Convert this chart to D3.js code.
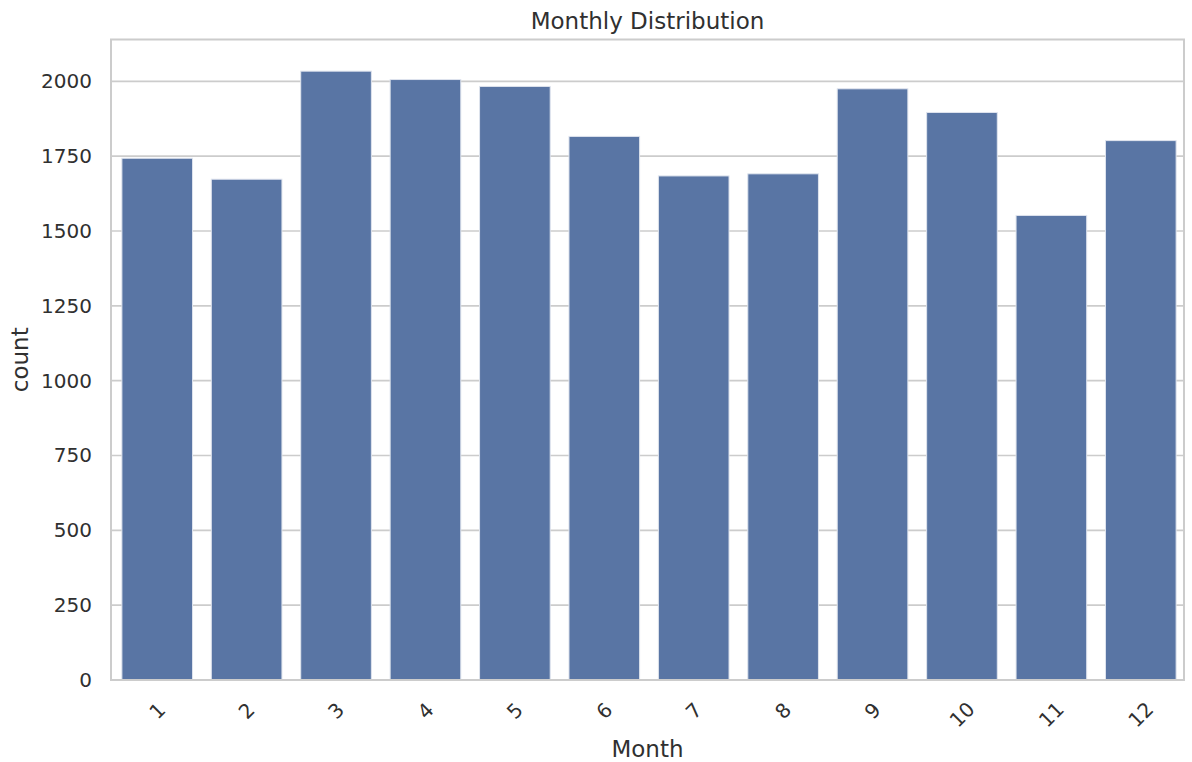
<!DOCTYPE html>
<html>
<head>
<meta charset="utf-8">
<script src="https://cdn.jsdelivr.net/npm/d3@7"></script>
<style>
html,body{margin:0;padding:0;background:#fff;}
svg{display:block;font-family:"DejaVu Sans",sans-serif;}
</style>
</head>
<body>
<svg id="chart" width="1192" height="762"></svg>
<script>
const months = ["1","2","3","4","5","6","7","8","9","10","11","12"];
const counts = [1743, 1673, 2034, 2006, 1983, 1816, 1684, 1691, 1975, 1896, 1552, 1802];
const yTicks = [0, 250, 500, 750, 1000, 1250, 1500, 1750, 2000];

const svg = d3.select("#chart");
const m = {left: 111, right: 1184, top: 39.5, bottom: 680};
const textColor = "#303030";
const gridColor = "#cccccc";

const x = d3.scaleBand().domain(months).range([m.left + 1.5, m.right + 1.5]).paddingInner(0.21).paddingOuter(0.105);
const y = d3.scaleLinear().domain([0, d3.max(counts) * 1.052]).range([m.bottom, m.top]);

// gridlines
svg.append("g").selectAll("line").data(yTicks).join("line")
  .attr("x1", m.left).attr("x2", m.right)
  .attr("y1", d => y(d)).attr("y2", d => y(d))
  .attr("stroke", gridColor).attr("stroke-width", 1.7);

// bars
svg.append("g").selectAll("rect").data(months).join("rect")
  .attr("x", d => x(d))
  .attr("width", x.bandwidth())
  .attr("y", (d, i) => y(counts[i]))
  .attr("height", (d, i) => y(0) - y(counts[i]))
  .attr("fill", "#5975a4")
  .attr("stroke", "#dfe4ee").attr("stroke-width", 1);

// frame
svg.append("rect").attr("x", m.left).attr("y", m.top)
  .attr("width", m.right - m.left).attr("height", m.bottom - m.top)
  .attr("fill", "none").attr("stroke", gridColor).attr("stroke-width", 2);

// y axis labels
const yAxis = d3.axisLeft(y).tickValues(yTicks).tickFormat(d3.format("d")).tickSize(0).tickPadding(19);
const gy = svg.append("g").attr("transform", `translate(${m.left},0)`).call(yAxis);
gy.select(".domain").remove();
gy.selectAll("text").attr("fill", textColor).style("font-size", "20px")
  .style("font-family", "DejaVu Sans");

// x axis labels
const xAxis = d3.axisBottom(x).tickSize(0).tickPadding(0);
const gx = svg.append("g").call(xAxis);
gx.select(".domain").remove();
gx.selectAll(".tick").attr("transform", null);
gx.selectAll(".tick text")
  .attr("fill", textColor).style("font-size", "20px").style("font-family", "DejaVu Sans")
  .attr("text-anchor", "middle").attr("dominant-baseline", "central")
  .attr("y", null).attr("dy", null)
  .each(function(d) {
    const w = this.getComputedTextLength();
    const cx = x(d) + x.bandwidth() / 2;
    const cy = 707 + w * 0.3;
    d3.select(this).attr("transform", `translate(${cx},${cy}) rotate(-45)`);
  });

// title
svg.append("text").attr("x", (m.left + m.right) / 2).attr("y", 29)
  .attr("text-anchor", "middle").attr("fill", textColor)
  .style("font-size", "23px").text("Monthly Distribution");

// x label
svg.append("text").attr("x", (m.left + m.right) / 2).attr("y", 757)
  .attr("text-anchor", "middle").attr("fill", textColor)
  .style("font-size", "23px").text("Month");

// y label
svg.append("text").attr("transform", `translate(28,${(m.top + m.bottom) / 2}) rotate(-90)`)
  .attr("text-anchor", "middle").attr("fill", textColor)
  .style("font-size", "23px").text("count");
</script>
</body>
</html>
